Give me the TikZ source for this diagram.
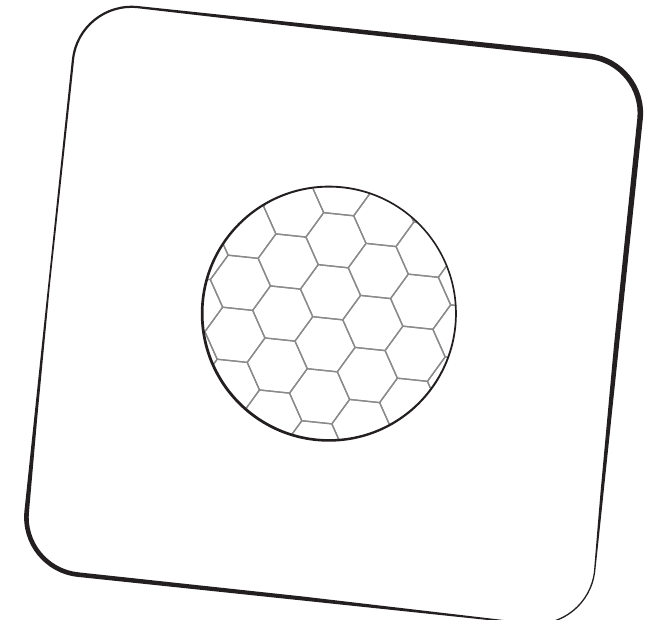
\documentclass[tikz,border=0pt]{standalone}
\definecolor{ink}{HTML}{231F20}
\definecolor{hexgray}{HTML}{8A8A8A}
\begin{document}
\begin{tikzpicture}[x=1pt,y=1pt,
  hexline/.style={draw=hexgray, line width=1.3pt, line join=round},
  inkfill/.style={fill=ink, even odd rule}]
\fill[white] (0,0) rectangle (654,-620);
\useasboundingbox (0,0) rectangle (654,-620);

% hexagonal mesh inside the circle
\begin{scope}
  \clip (329.3,-313.35) circle[radius=125.8];
  \begin{scope}[shift={(330.5,-292.25)}, rotate=-6]
    \foreach \i in {-5,...,5}{
      \foreach \j in {-6,...,6}{
        \pgfmathsetmacro\cx{45.3*\i}
        \pgfmathsetmacro\cy{52.308*(\j+0.5*\i)}
        \draw[hexline] (\cx,\cy) +(0:30.2) -- +(60:30.2) -- +(120:30.2) -- +(180:30.2) -- +(240:30.2) -- +(300:30.2) -- cycle;
      }
    }
  \end{scope}
\end{scope}

% circle ring
\fill[inkfill] (328.8,-313.7) circle[radius=128] (329.3,-313.35) circle[radius=125.8];

% rounded square with varying stroke
\begin{scope}[shift={(333.6,-315.2)}, rotate=-6]
  \fill[inkfill]
    (0,287) -- (227,287) arc[start angle=90, end angle=0, radius=60]
    -- (287,-227) arc[start angle=0, end angle=-90, radius=60]
    -- (-227,-287) arc[start angle=-90, end angle=-180, radius=60]
    -- (-287,227) arc[start angle=180, end angle=90, radius=60] -- cycle
    (0,282.5) -- (227,281.5) arc[start angle=90, end angle=0, radius=54.5]
    -- (282,0) -- (284,-150) -- (285.7,-227) arc[start angle=0, end angle=-90, radius=58.7]
    -- (0,-283) -- (-227,-282.4) arc[start angle=-90, end angle=-180, radius=55.4]
    -- (-284,-135) -- (-285.3,0) -- (-284.8,227) arc[start angle=180, end angle=90, radius=57.8] -- cycle;
\end{scope}
\end{tikzpicture}
\end{document}
